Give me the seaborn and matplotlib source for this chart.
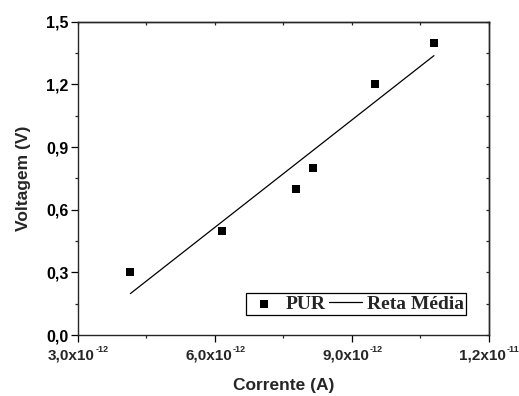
import numpy as np
import pandas as pd
import seaborn as sns
import matplotlib
matplotlib.use("Agg")
import matplotlib.pyplot as plt
from matplotlib.ticker import MultipleLocator, FuncFormatter, NullFormatter

# Medidas: corrente (A) e voltagem (V) da amostra PUR
corrente = [4.15e-12, 6.16e-12, 7.77e-12, 8.16e-12, 9.51e-12, 10.80e-12]
voltagem = [0.30, 0.50, 0.70, 0.80, 1.20, 1.40]

x_ticks = [3.0e-12, 6.0e-12, 9.0e-12, 1.2e-11]
y_ticks = [0.0, 0.3, 0.6, 0.9, 1.2, 1.5]

df = pd.DataFrame({"Corrente (A)": corrente, "Voltagem (V)": voltagem})

sns.set_theme(style="ticks")
plt.rcParams["font.family"] = ["Liberation Sans", "DejaVu Sans"]
plt.rcParams["font.weight"] = "bold"
plt.rcParams["axes.linewidth"] = 1.0

fig = plt.figure(figsize=(5.19, 3.96), dpi=100)
ax = fig.add_axes([0.150, 0.154, 0.7917, 0.791])

sns.regplot(
    data=df, x="Corrente (A)", y="Voltagem (V)", ax=ax, ci=None,
    marker="s", color="black", truncate=True, label="PUR",
    scatter_kws=dict(s=27, linewidths=0, alpha=1),
    line_kws=dict(lw=0.9, label="Reta Média"),
)

ax.set_xlim(x_ticks[0], x_ticks[-1])
ax.set_ylim(y_ticks[0], y_ticks[-1])

ax.set_xticks(x_ticks)
ax.xaxis.set_major_formatter(NullFormatter())
ax.xaxis.set_minor_locator(MultipleLocator(1.5e-12))
ax.set_yticks(y_ticks)
ax.yaxis.set_major_formatter(FuncFormatter(lambda v, p: f"{v:.1f}".replace(".", ",")))
ax.yaxis.set_minor_locator(MultipleLocator(0.15))

ax.tick_params(which="major", direction="out", length=4.8, width=0.9,
               labelsize=11.5, pad=2, colors="black")
ax.tick_params(which="minor", direction="out", length=2.5, width=0.9)
for lab in ax.get_yticklabels():
    lab.set_fontweight("bold")

# rótulos do eixo x em notação científica: mantissa + expoente sobrescrito
for t in x_ticks:
    e = int(np.floor(np.log10(t) + 1e-9))
    m = t / 10.0 ** e
    base = ax.annotate(
        f"{m:.1f}".replace(".", ",") + "x10", xy=(t, 0),
        xycoords=("data", "axes fraction"), xytext=(-4.5, -9.5),
        textcoords="offset points", ha="center", va="top",
        fontsize=11, fontweight="bold", annotation_clip=False,
    )
    ax.annotate(
        f"{e}", xy=(1, 1), xycoords=base, xytext=(0.2, 2.4),
        textcoords="offset points", ha="left", va="top",
        fontsize=6.5, fontweight="bold", annotation_clip=False,
    )

# ticks internos nas bordas superior e direita
top = ax.secondary_xaxis("top")
top.set_xticks(x_ticks)
top.xaxis.set_minor_locator(MultipleLocator(1.5e-12))
top.tick_params(which="both", direction="in", labeltop=False, width=0.9)
top.tick_params(which="major", length=2.5)
top.tick_params(which="minor", length=2.0)
right = ax.secondary_yaxis("right")
right.set_yticks(y_ticks)
right.yaxis.set_minor_locator(MultipleLocator(0.15))
right.tick_params(which="both", direction="in", labelright=False, width=0.9)
right.tick_params(which="major", length=2.5)
right.tick_params(which="minor", length=2.0)

ax.set_xlabel("Corrente (A)", fontsize=12.5, fontweight="bold", labelpad=24.5)
ax.set_ylabel("Voltagem (V)", fontsize=12.5, fontweight="bold", labelpad=11)

leg = ax.legend(
    ncol=2, loc="lower right", bbox_to_anchor=(0.945, 0.064), borderaxespad=0,
    prop={"family": "Liberation Serif", "weight": "bold", "size": 14},
    frameon=True, fancybox=False, edgecolor="black", framealpha=1,
    borderpad=0.1, handlelength=1.7, handletextpad=0.25, columnspacing=0.2,
    markerscale=1.0,
)
leg.get_frame().set_linewidth(0.9)

fig.savefig("out.png", dpi=100)
